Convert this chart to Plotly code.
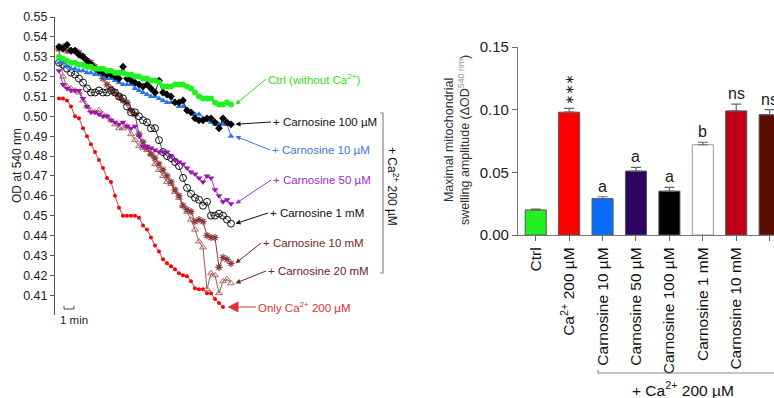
import plotly.graph_objects as go

W, H = 774, 398

# ---------------- Left panel data (OD at 540 nm vs time, 0.4 min sampling) ----------------
dt_min = 0.4
time_min = [round(i * dt_min, 1) for i in range(44)]

ctrl = [0.530, 0.529, 0.528, 0.527, 0.527, 0.526, 0.526, 0.525, 0.525, 0.524, 0.524, 0.524,
        0.523, 0.523, 0.522, 0.522, 0.522, 0.521, 0.521, 0.520, 0.520, 0.519, 0.519, 0.518,
        0.518, 0.517, 0.515, 0.515, 0.515, 0.516, 0.516, 0.516, 0.515, 0.514, 0.512, 0.510,
        0.509, 0.509, 0.509, 0.507, 0.506, 0.506, 0.507, 0.506]
carn_100uM = [0.535, 0.534, 0.536, 0.533, 0.533, 0.531, 0.530, 0.528, 0.526, 0.524, 0.523, 0.522,
              0.521, 0.521, 0.520, 0.519, 0.525, 0.519, 0.518, 0.517, 0.516, 0.515, 0.516, 0.514,
              0.512, 0.518, 0.512, 0.511, 0.510, 0.507, 0.507, 0.508, 0.503, 0.502, 0.499, 0.498,
              0.498, 0.499, 0.499, 0.497, 0.494, 0.499, 0.497, 0.496]
carn_10uM = [0.527, 0.527, 0.525, 0.524, 0.524, 0.523, 0.523, 0.522, 0.522, 0.521, 0.521, 0.520,
             0.519, 0.519, 0.518, 0.517, 0.516, 0.516, 0.516, 0.514, 0.513, 0.512, 0.511, 0.510,
             0.510, 0.509, 0.508, 0.507, 0.507, 0.507, 0.505, 0.505, 0.503, 0.502, 0.501, 0.501,
             0.499, 0.498, 0.497, 0.496, 0.496, 0.496, 0.496, 0.490]
carn_50uM = [0.523, 0.516, 0.514, 0.513, 0.513, 0.513, 0.509, 0.505, 0.502, 0.502, 0.501, 0.500,
             0.500, 0.498, 0.497, 0.496, 0.497, 0.495, 0.494, 0.495, 0.490, 0.485, 0.485, 0.484,
             0.483, 0.482, 0.482, 0.482, 0.480, 0.478, 0.477, 0.476, 0.474, 0.472, 0.471, 0.469,
             0.467, 0.470, 0.469, 0.463, 0.460, 0.457, 0.458, 0.456]
carn_1mM = [0.527, 0.526, 0.524, 0.522, 0.521, 0.519, 0.517, 0.514, 0.512, 0.512, 0.513, 0.512,
            0.512, 0.513, 0.512, 0.510, 0.509, 0.505, 0.502, 0.502, 0.500, 0.498, 0.497, 0.494,
            0.494, 0.488, 0.482, 0.480, 0.479, 0.477, 0.475, 0.469, 0.464, 0.461, 0.459, 0.458,
            0.455, 0.457, 0.450, 0.450, 0.451, 0.450, 0.448, 0.446]
carn_10mM = [0.534, 0.535, 0.533, 0.533, 0.533, 0.532, 0.530, 0.528, 0.527, 0.525, 0.522, 0.519,
             0.516, 0.514, 0.512, 0.510, 0.508, 0.507, 0.503, 0.501, 0.491, 0.487, 0.484, 0.481,
             0.479, 0.476, 0.473, 0.470, 0.467, 0.463, 0.460, 0.455, 0.453, 0.452, 0.447, 0.448,
             0.447, 0.440, 0.439, 0.439, 0.424, 0.429, 0.428, 0.426]
carn_20mM = [0.534, 0.520, 0.515, 0.514, 0.513, 0.512, 0.508, 0.505, 0.503, 0.502, 0.503, 0.501,
             0.500, 0.498, 0.496, 0.494, 0.494, 0.495, 0.491, 0.488, 0.485, 0.484, 0.483, 0.481,
             0.476, 0.473, 0.470, 0.467, 0.466, 0.462, 0.459, 0.455, 0.452, 0.448, 0.443, 0.437,
             0.434, 0.413, 0.421, 0.420, 0.411, 0.417, 0.418, 0.416]
only_ca = [0.509, 0.509, 0.508, 0.505, 0.500, 0.499, 0.494, 0.490, 0.486, 0.482, 0.478, 0.474,
           0.469, 0.467, 0.460, 0.454, 0.450, 0.450, 0.450, 0.450, 0.449, 0.445, 0.443, 0.439,
           0.435, 0.432, 0.428, 0.426, 0.4245, 0.423, 0.421, 0.420, 0.4195, 0.417, 0.4135, 0.413,
           0.413, 0.411, 0.411, 0.408, 0.406, 0.404]

left_ticks = [0.41, 0.42, 0.43, 0.44, 0.45, 0.46, 0.47, 0.48, 0.49, 0.50, 0.51, 0.52, 0.53, 0.54, 0.55]

# ---------------- Right panel data ----------------
bar_labels = ["Ctrl", "Ca<sup>2+</sup> 200 µM", "Carnosine 10 µM", "Carnosine 50 µM",
              "Carnosine 100 µM", "Carnosine 1 mM", "Carnosine 10 mM", "Carnosine 20 mM"]
bar_values = [0.020, 0.098, 0.029, 0.051, 0.035, 0.072, 0.099, 0.096]
bar_errors = [0.0006, 0.003, 0.0015, 0.003, 0.003, 0.002, 0.0055, 0.004]
bar_marks = ["", "∗∗∗", "a", "a", "a", "b", "ns", "ns"]
bar_colors = ["#22f022", "#ff0000", "#0a6cff", "#2c0561", "#000000", "#ffffff", "#c0001a", "#5a0e04"]
right_ticks = [0.00, 0.05, 0.10, 0.15]

# ---------------- geometry helpers ----------------
def PX(px):
    return px / W

def PY(py):
    return 1 - py / H

# left axes: x in minutes, 1 min = 10 px, t=0 at px 59
LX0, LX1 = 55, 410
LY_TOP, LY_BOT = 17, 315
lx_range = [(LX0 - 59) / 10, (LX1 - 59) / 10]
ly_range = [0.40, 0.55]

def tx(px):
    return lx_range[0] + (px - LX0) / (LX1 - LX0) * (lx_range[1] - lx_range[0])

def vy(py):
    return ly_range[1] - (py - LY_TOP) / (LY_BOT - LY_TOP) * (ly_range[1] - ly_range[0])

fig = go.Figure()

series = [
    ("Only Ca 200 µM", only_ca, dict(symbol="circle", size=4, color="#ff0000"), "#b84a4a", 1.0),
    ("Carnosine 20 mM", carn_20mM, dict(symbol="triangle-up-open", size=6, color="#b06a62", line=dict(width=1)), "#a05a55", 1.0),
    ("Carnosine 10 mM", carn_10mM, dict(symbol="asterisk-open", size=6, color="#8a3a3a", line=dict(width=1.2, color="#7a2a2a")), "#8a3a3a", 1.0),
    ("Carnosine 1 mM", carn_1mM, dict(symbol="circle-open", size=7, color="#111111", line=dict(width=1)), "#222222", 0.8),
    ("Carnosine 50 µM", carn_50uM, dict(symbol="triangle-down", size=6, color="#9a12b4"), "#8a3ac0", 1.0),
    ("Carnosine 10 µM", carn_10uM, dict(symbol="triangle-up", size=6, color="#2a78e6"), "#3a7bd5", 1.0),
    ("Carnosine 100 µM", carn_100uM, dict(symbol="diamond", size=6, color="#000000"), "#111111", 1.0),
    ("Ctrl", ctrl, dict(symbol="circle", size=6, color="#22f022"), "#33dd22", 1.0),
]
for name, vals, mk, lc, lw in series:
    fig.add_trace(go.Scatter(
        x=time_min[:len(vals)], y=vals, mode="lines+markers", name=name,
        marker=mk, line=dict(color=lc, width=lw), xaxis="x", yaxis="y", showlegend=False))

# bars
fig.add_trace(go.Bar(
    x=list(range(len(bar_values))), y=bar_values, width=0.63,
    marker=dict(color=bar_colors, line=dict(color=["#555"] * 5 + ["#999"] + ["#555"] * 2, width=1)),
    error_y=dict(type="data", symmetric=False, array=bar_errors, arrayminus=[0] * len(bar_errors),
                 color="#666", thickness=1.2, width=5),
    xaxis="x2", yaxis="y2", showlegend=False, cliponaxis=True))

annotations = []
shapes = []
lab_font = dict(family="Liberation Sans, Arial", size=11.5)

# left labels with arrows: (series, text, color, text_left_px, text_center_py, big)
left_labels = [
    (ctrl, "Ctrl (without Ca<sup>2+</sup>)", "#3ad820", 266, 79, False),
    (carn_100uM, "+ Carnosine 100 µM", "#111111", 271, 122, False),
    (carn_10uM, "+ Carnosine 10 µM", "#3a7bd5", 270, 150, False),
    (carn_50uM, "+ Carnosine 50 µM", "#9a2fc8", 271, 180, False),
    (carn_1mM, "+ Carnosine 1 mM", "#111111", 268, 213, False),
    (carn_10mM, "+ Carnosine 10 mM", "#7a1f1f", 261, 243, False),
    (carn_20mM, "+ Carnosine 20 mM", "#6a2222", 266, 271, False),
    (only_ca, "Only Ca<sup>2+</sup> 200 µM", "#e03030", 256, 307, True),
]
for vals, text, col, tlx, tly, big in left_labels:
    hx = time_min[len(vals) - 1] + 0.45
    annotations.append(dict(xref="x", yref="y", axref="x", ayref="y", x=hx, y=vals[-1],
                            ax=tx(tlx), ay=vy(tly), text=text, xanchor="left", yanchor="middle",
                            showarrow=True, arrowhead=2, arrowsize=2.2 if big else 1.0,
                            arrowwidth=1, arrowcolor=col, standoff=0,
                            font=dict(lab_font, color=col)))

# bracket + rotated Ca label on left panel
shapes.append(dict(type="path", xref="paper", yref="paper",
                   path=f"M {PX(380)},{PY(113)} L {PX(383)},{PY(113)} L {PX(383)},{PY(273)} L {PX(380)},{PY(273)}",
                   line=dict(color="#888", width=1.2)))
annotations.append(dict(xref="paper", yref="paper", x=PX(393), y=PY(186),
                        text="+ Ca<sup>2+</sup> 200 µM", textangle=90, showarrow=False,
                        xanchor="center", yanchor="middle", font=dict(lab_font, color="#111", size=12)))

# 1 min scale bar
shapes.append(dict(type="path", xref="x", yref="paper",
                   path=f"M 0.5,{PY(306)} L 0.5,{PY(309)} L 1.5,{PY(309)} L 1.5,{PY(306)}",
                   line=dict(color="#444", width=1)))
annotations.append(dict(xref="paper", yref="paper", x=PX(74), y=PY(320), text="1 min",
                        showarrow=False, xanchor="center", yanchor="middle",
                        font=dict(lab_font, color="#222", size=11.5)))

# left y title
annotations.append(dict(xref="paper", yref="paper", x=PX(17), y=PY(166), text="OD at 540 nm",
                        textangle=-90, showarrow=False, xanchor="center", yanchor="middle",
                        font=dict(lab_font, color="#222", size=12)))

# right significance marks
for i, (m, v, e) in enumerate(zip(bar_marks, bar_values, bar_errors)):
    if not m:
        continue
    if m == "∗∗∗":
        annotations.append(dict(xref="x2", yref="y2", x=i, y=v + e, text=m, textangle=90,
                                showarrow=False, xanchor="center", yanchor="bottom", yshift=2,
                                font=dict(family="DejaVu Sans, Liberation Sans", size=12, color="#222")))
    else:
        annotations.append(dict(xref="x2", yref="y2", x=i, y=v + e, text=m,
                                showarrow=False, xanchor="center", yanchor="bottom", yshift=0,
                                font=dict(family="Liberation Sans, Arial", size=16, color="#222")))

# right y title
annotations.append(dict(xref="paper", yref="paper", x=PX(457), y=PY(140),
                        text="Maximal mitochondrial<br>swelling amplitude (ΔOD<sup><span style='color:#999'>540 nm</span></sup>)",
                        textangle=-90, showarrow=False, xanchor="center", yanchor="middle",
                        font=dict(family="Liberation Sans, Arial", size=12.5, color="#333")))

# bottom bracket + label
shapes.append(dict(type="path", xref="paper", yref="paper",
                   path=f"M {PX(598)},{PY(370)} L {PX(598)},{PY(373)} L {PX(780)},{PY(373)}",
                   line=dict(color="#888", width=1.2)))
annotations.append(dict(xref="paper", yref="paper", x=PX(683), y=PY(389),
                        text="+ Ca<sup>2+</sup> 200 µM", showarrow=False, xanchor="center", yanchor="middle",
                        font=dict(family="Liberation Sans, Arial", size=15.5, color="#111")))

fig.update_layout(
    width=W, height=H, margin=dict(l=0, r=0, t=0, b=0, autoexpand=False),
    paper_bgcolor="white", plot_bgcolor="white",
    font=dict(family="Liberation Sans, Arial", color="#222"),
    showlegend=False, bargap=0.37,
    xaxis=dict(domain=[PX(LX0), PX(LX1)], range=lx_range, visible=False, anchor="y", automargin=False),
    yaxis=dict(domain=[PY(LY_BOT), PY(LY_TOP)], range=ly_range, anchor="x", automargin=False,
               tickvals=left_ticks, ticktext=[f"{t:.2f}" for t in left_ticks],
               ticks="outside", ticklen=4, tickcolor="#555", showline=True, linecolor="#555",
               linewidth=1, showgrid=False, zeroline=False, tickfont=dict(size=12.5, color="#222")),
    xaxis2=dict(domain=[PX(518), 1.0], range=[-0.53, 7.13], anchor="y2", automargin=False,
                tickvals=list(range(len(bar_labels))), ticktext=bar_labels, tickangle=-90,
                ticks="outside", ticklen=5, tickcolor="#666", showline=True, linecolor="#777",
                linewidth=1.2, showgrid=False, zeroline=False,
                tickfont=dict(size=15.5, color="#111")),
    yaxis2=dict(domain=[PY(235), PY(47)], range=[0, 0.15], anchor="x2", automargin=False,
                tickvals=right_ticks, ticktext=[f"{t:.2f}" for t in right_ticks],
                ticks="outside", ticklen=5, tickcolor="#666", showline=True, linecolor="#777",
                linewidth=1.2, showgrid=False, zeroline=False,
                tickfont=dict(size=15, color="#222")),
    annotations=annotations, shapes=shapes,
)

fig.write_html("out.html", config={"displayModeBar": False},
               post_script="document.body.style.margin='0';document.body.style.overflow='hidden';")
